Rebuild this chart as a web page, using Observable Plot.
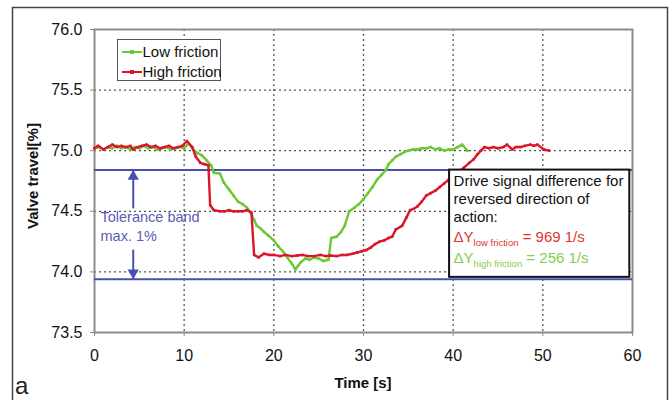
<!DOCTYPE html>
<html>
<head>
<meta charset="utf-8">
<script src="https://cdn.jsdelivr.net/npm/d3@7"></script>
<script src="https://cdn.jsdelivr.net/npm/@observablehq/plot@0.6"></script>
<style>
  html, body { margin: 0; padding: 0; background: #fff; }
  svg { display: block; }
  g[aria-label*="axis"] line, g[aria-label*="axis"] path { stroke: #8c8c8c; }
  g[aria-label*="axis"] text { fill: #111; }
</style>
</head>
<body>
<div id="chart"></div>
<script>
// ---- data ----
const seriesNames = ["Low friction", "High friction"];

const timeLow = [0.0,0.5,1.0,1.5,2.0,2.5,3.0,3.5,4.0,4.5,5.0,5.5,6.0,6.5,7.0,7.5,8.0,8.5,9.0,9.5,10.0,10.5,11.0,11.5,12.0,12.5,13.0,13.3,14.0,14.4,15.0,15.5,16.0,16.5,17.0,17.4,17.8,18.1,18.5,18.9,19.4,20.0,20.5,21.0,21.5,22.0,22.4,22.7,23.0,23.5,24.0,24.5,25.0,25.5,26.1,26.4,27.0,27.5,27.9,28.4,29.0,29.5,30.0,30.5,31.0,31.5,32.0,32.5,32.8,33.2,33.6,34.1,34.6,35.0,35.5,36.0,36.5,37.0,37.5,38.0,38.5,39.0,39.5,40.0,40.5,41.0,41.6];
const valveLow = [75.02,75.03,75.01,75.03,75.02,75.04,75.02,75.03,75.01,75.03,75.02,75.04,75.02,75.03,75.01,75.02,75.03,75.01,75.02,75.03,75.02,75.06,75.01,74.98,74.96,74.92,74.88,74.82,74.81,74.74,74.68,74.63,74.58,74.56,74.53,74.49,74.43,74.38,74.36,74.33,74.30,74.26,74.21,74.17,74.12,74.07,74.02,74.05,74.08,74.11,74.10,74.12,74.11,74.09,74.10,74.28,74.29,74.33,74.38,74.50,74.53,74.56,74.60,74.65,74.70,74.76,74.80,74.84,74.89,74.92,74.95,74.97,74.99,75.00,75.01,75.01,75.02,75.02,75.03,75.01,75.02,75.00,75.01,75.01,75.03,75.05,75.00];

const timeHigh = [0.0,0.4,1.0,1.5,2.0,2.5,3.0,3.5,4.0,4.3,4.8,5.3,5.8,6.3,6.8,7.3,7.8,8.3,8.8,9.3,9.8,10.3,10.9,11.3,11.8,12.2,12.7,12.9,13.3,14.0,14.5,15.0,15.5,16.0,16.5,17.0,17.5,17.8,18.3,18.9,19.5,20.0,20.7,21.3,22.0,22.6,23.2,23.8,24.5,25.2,25.8,26.3,27.0,27.6,28.2,28.8,29.3,29.8,30.3,30.8,31.3,31.8,32.3,32.8,33.2,33.6,34.3,34.8,35.2,35.6,36.0,36.5,37.0,37.5,38.0,38.5,39.0,39.5,40.0,40.6,41.2,41.8,42.3,42.7,43.1,43.5,44.0,44.5,45.0,45.6,46.0,46.6,47.0,47.5,48.0,48.6,49.0,49.4,50.1,50.7];
const valveHigh = [75.02,75.04,75.01,75.03,75.05,75.03,75.04,75.03,75.04,75.01,75.03,75.04,75.05,75.03,75.04,75.02,75.03,75.04,75.02,75.03,75.04,75.08,75.03,74.95,74.90,74.89,74.88,74.55,74.51,74.50,74.50,74.51,74.50,74.50,74.50,74.51,74.49,74.14,74.12,74.15,74.14,74.14,74.13,74.14,74.13,74.135,74.14,74.13,74.13,74.14,74.13,74.135,74.13,74.14,74.14,74.15,74.16,74.17,74.18,74.20,74.23,74.25,74.26,74.28,74.29,74.35,74.38,74.45,74.51,74.52,74.54,74.58,74.63,74.65,74.67,74.70,74.73,74.76,74.79,74.82,74.86,74.90,74.93,74.97,75.00,75.03,75.02,75.03,75.02,75.03,75.05,75.01,75.03,75.03,75.04,75.05,75.04,75.05,75.01,75.00];

const xTicks = [0, 10, 20, 30, 40, 50, 60];
const yTicks = [73.5, 74.0, 74.5, 75.0, 75.5, 76.0];
const xGrid = [10, 20, 30, 40, 50];
const yGrid = [74.0, 74.5, 75.0, 75.5];
const toleranceBand = [74.84, 73.94];
const toleranceLabel = ["Tolerance band", "max. 1%"];
const annotationLines = ["Drive signal difference for", "reversed direction of", "action:"];
const deltaLabels = [
  {sub: "low friction", value: "= 969 1/s"},
  {sub: "high friction", value: "= 256 1/s"}
];
const xLabel = "Time [s]";
const yLabel = "Valve travel[%]";
const panelLetter = "a";

// ---- styling ----
const green = "#6cc832";
const red = "#d9162b";
const blue = "#4650b0";
const tolText = "#5a5db3";
const deltaColors = ["#e0352f", "#88cc4a"];
const font = "'Liberation Sans', Arial, Helvetica, sans-serif";

const low = timeLow.map((t, i) => ({t, v: valveLow[i], s: seriesNames[0]}));
const high = timeHigh.map((t, i) => ({t, v: valveHigh[i], s: seriesNames[1]}));

const arrowX = 4.32;
const upArrow = [{x: arrowX, y1: 74.52, y2: toleranceBand[0]}];
const downArrow = [{x: arrowX, y1: 74.18, y2: toleranceBand[1]}];

const chart = Plot.plot({
  width: 672,
  height: 400,
  marginLeft: 94,
  marginRight: 40,
  marginTop: 29,
  marginBottom: 68,
  style: {fontFamily: font, fontSize: "16px", background: "#fff", color: "#111"},
  x: {domain: [0, 60], ticks: xTicks, tickSize: 4, tickPadding: 13, tickFormat: d3.format("d"), label: null},
  y: {domain: [73.5, 76], ticks: yTicks, tickSize: 4, tickPadding: 8, tickFormat: d3.format(".1f"), label: null},
  marks: [
    Plot.ruleX(xGrid, {stroke: "#555", strokeWidth: 1.3, strokeDasharray: "2,3"}),
    Plot.ruleY(yGrid, {stroke: "#555", strokeWidth: 1.3, strokeDasharray: "2,3"}),
    Plot.frame({stroke: "#8c8c8c", strokeWidth: 2}),
    Plot.ruleY(toleranceBand, {stroke: blue, strokeWidth: 2}),
    Plot.line(low, {x: "t", y: "v", stroke: green, strokeWidth: 2.4}),
    Plot.dot(low, {x: "t", y: "v", symbol: "square", r: 1.4, fill: green, stroke: "none"}),
    Plot.line(high, {x: "t", y: "v", stroke: red, strokeWidth: 2.4}),
    Plot.dot(high, {x: "t", y: "v", symbol: "square", r: 1.4, fill: red, stroke: "none"}),
    Plot.ruleX(upArrow, {x: "x", y1: "y1", y2: "y2", stroke: blue, strokeWidth: 2}),
    Plot.ruleX(downArrow, {x: "x", y1: "y1", y2: "y2", stroke: blue, strokeWidth: 2}),
    Plot.dot(upArrow, {x: "x", y: "y2", symbol: "triangle", r: 4.2, fill: blue, stroke: "none", dy: 6.5}),
    Plot.dot(downArrow, {x: "x", y: "y2", symbol: "triangle", r: 4.2, fill: blue, stroke: "none", dy: -6.5, rotate: 180}),
    Plot.text(toleranceLabel, {x: () => 0.67, y: (d, i) => [74.45, 74.294][i], text: d => d, textAnchor: "start", fill: tolText, fontSize: 14.5})
  ]
});

document.getElementById("chart").appendChild(chart);

const sx = chart.scale("x");
const sy = chart.scale("y");
const svg = d3.select(chart);

// outer frame
svg.append("rect")
  .attr("x", 12.5).attr("y", 7.5).attr("width", 655).attr("height", 400)
  .attr("fill", "none").attr("stroke", "#444").attr("stroke-width", 1.5);

// legend
const lg = svg.append("g").attr("font-family", font).attr("font-size", 15).attr("text-anchor", "start");
lg.append("rect").attr("x", 117.5).attr("y", 39.5).attr("width", 103).attr("height", 41)
  .attr("fill", "#fff").attr("stroke", "#555").attr("stroke-width", 1);
[[green, 52], [red, 72]].forEach(([c, y], i) => {
  lg.append("line").attr("x1", 122).attr("x2", 142).attr("y1", y).attr("y2", y)
    .attr("stroke", c).attr("stroke-width", 2);
  lg.append("rect").attr("x", 130).attr("y", y - 2).attr("width", 4).attr("height", 4).attr("fill", c);
  lg.append("text").attr("x", 142.5).attr("y", y + 5.4).attr("fill", "#111").text(seriesNames[i]);
});

// annotation box
const bx0 = sx.apply(39.6), bx1 = sx.apply(59.7);
const by0 = sy.apply(toleranceBand[0]), by1 = sy.apply(73.955);
const ab = svg.append("g").attr("font-family", font).attr("font-size", 15).attr("text-anchor", "start");
ab.append("rect").attr("x", bx0).attr("y", by0).attr("width", bx1 - bx0).attr("height", by1 - by0)
  .attr("fill", "#fff").attr("stroke", "#111").attr("stroke-width", 2);
const baselines = [185.5, 203.5, 222, 242, 263];
annotationLines.forEach((s, i) => {
  ab.append("text").attr("x", bx0 + 4.5).attr("y", baselines[i]).attr("fill", "#111").text(s);
});
deltaLabels.forEach((d, i) => {
  const t = ab.append("text").attr("x", bx0 + 4.5).attr("y", baselines[3 + i]).attr("fill", deltaColors[i]);
  t.append("tspan").text("\u0394Y");
  t.append("tspan").attr("font-size", 9.5).attr("dy", 4).text(d.sub);
  t.append("tspan").attr("dy", -4).text(" " + d.value);
});

// axis labels
svg.append("text").attr("x", (sx.apply(0) + sx.apply(60)) / 2).attr("y", 388)
  .attr("text-anchor", "middle").attr("font-family", font).attr("font-size", 15)
  .attr("font-weight", "bold").attr("fill", "#111").text(xLabel);
svg.append("text").attr("transform", `translate(38,176) rotate(-90)`)
  .attr("text-anchor", "middle").attr("font-family", font).attr("font-size", 15)
  .attr("font-weight", "bold").attr("fill", "#111").text(yLabel);
svg.append("text").attr("x", 15).attr("y", 394).attr("text-anchor", "start").attr("font-family", font)
  .attr("font-size", 24).attr("fill", "#222").text(panelLetter);
</script>
</body>
</html>
